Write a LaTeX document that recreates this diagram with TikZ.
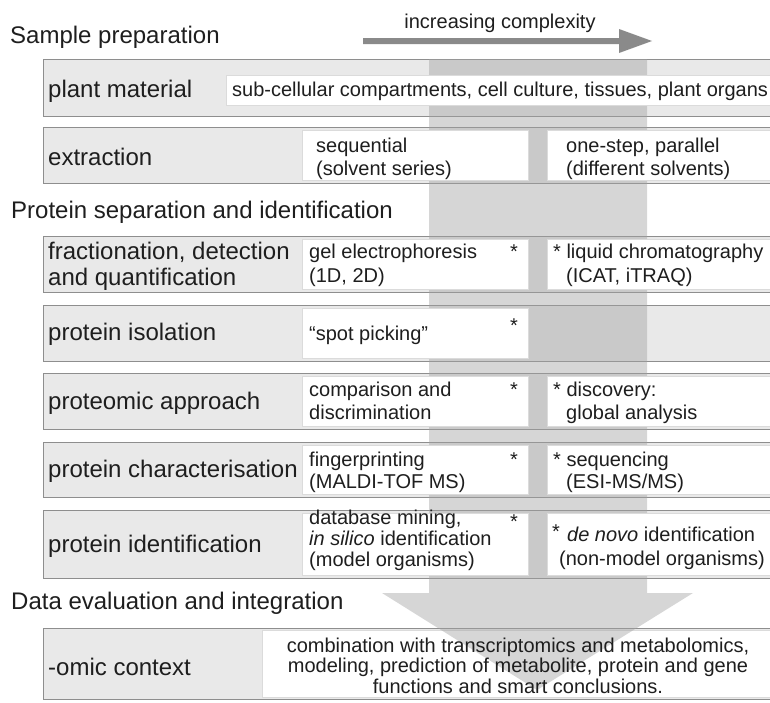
\documentclass[tikz,border=0pt]{standalone}
\usepackage{fontspec}
\setmainfont{Liberation Sans}
\definecolor{boxfill}{HTML}{E9E9E9}
\definecolor{boxline}{HTML}{8E8E8E}
\definecolor{txt}{HTML}{1E1E1E}
\definecolor{arrowgray}{HTML}{8A8A8A}
\newcommand\lblfont{\fontsize{24}{26}\selectfont}
\newcommand\inrfont{\fontsize{20}{22.5}\selectfont}
\tikzset{
  rowbox/.style={fill=boxfill, draw=boxline, line width=1pt},
  inbox/.style={fill=white, draw=black!14, line width=0.5pt},
  lbl/.style={anchor=base west, inner sep=0pt, text=txt, font=\lblfont},
  itxt/.style={anchor=base west, inner sep=0pt, text=txt, font=\inrfont},
  ctxt/.style={anchor=base, inner sep=0pt, text=txt, font=\inrfont},
  star/.style={anchor=base, inner sep=0pt, text=txt, font=\inrfont},
  band/.style={fill=black!37, fill opacity=0.43},
}
\begin{document}
\begin{tikzpicture}[x=1pt,y=-1pt]
\useasboundingbox (0,0) rectangle (770,702);
\clip (0,0) rectangle (770,702);

% outer row boxes
\foreach \t/\b in {59/116, 127/183, 236/292, 305/361, 373/429, 442/497, 510/578, 628/699}{
  \path[rowbox] (43,\t) rectangle (785,\b);
}

% bottom inner box (lies under the arrow head)
\path[inbox] (262,630) rectangle (785,697);

% big downward arrow (band)
\coordinate (bandTL) at (429,59);
\coordinate (bandTR) at (647,59);
\fill[band] (bandTL) -- (bandTR) -- (647,593) -- (693,593) -- (537,690) -- (382,593) -- (429,593) -- cycle;

% inner boxes
\path[inbox] (226,75) rectangle (785,105);
\foreach \t/\b in {127/183, 236/292, 373/429, 442/497, 510/578}{
  \path[inbox] (302,\t+3) rectangle (528,\b-3);
  \path[inbox] (547,\t+3) rectangle (785,\b-3);
}
\path[inbox] (302,308) rectangle (528,358);

% top arrow
\coordinate (ta) at (363,41);
\coordinate (tb) at (652,41);
\fill[arrowgray] (ta) ++(0,-3) -- (619,38) -- (619,29) -- (tb) -- (619,53) -- (619,44) -- (363,44) -- cycle;
\node[ctxt] (inc) at (500,28) {increasing complexity};

% section titles
\node[lbl] (t1) at (10,43) {Sample preparation};
\node[lbl] (t2) at (11,218) {Protein separation and identification};
\node[lbl] (t3) at (11,609) {Data evaluation and integration};

% row labels
\node[lbl] (l1) at (48,97) {plant material};
\node[lbl] (l2) at (48,165) {extraction};
\node[lbl] (l3a) at (48,259) {fractionation, detection};
\node[lbl] (l3b) at (48,285) {and quantification};
\node[lbl] (l4) at (48,340) {protein isolation};
\node[lbl] (l5) at (48,409) {proteomic approach};
\node[lbl] (l6) at (48,477) {protein characterisation};
\node[lbl] (l7) at (48,552) {protein identification};
\node[lbl] (l8) at (48,675) {-omic context};

% row 1
\node[itxt] (c1) at (232,96) {sub-cellular compartments, cell culture, tissues, plant organs};

% row 2
\node[itxt] (c2a1) at (316,152) {sequential};
\node[itxt] (c2a2) at (316,175) {(solvent series)};
\node[itxt] (c2b1) at (566,152) {one-step, parallel};
\node[itxt] (c2b2) at (566,175) {(different solvents)};

% row 3
\node[itxt] (c3a1) at (309,258) {gel electrophoresis};
\node[itxt] (c3a2) at (309,282) {(1D, 2D)};
\node[star] (s3a) at (514,258) {*};
\node[itxt] (c3b1) at (553,258) {* liquid chromatography};
\node[itxt] (c3b2) at (566,282) {(ICAT, iTRAQ)};

% row 4
\node[itxt] (c4a1) at (309,340) {“spot picking”};
\node[star] (s4a) at (514,332) {*};

% row 5
\node[itxt] (c5a1) at (309,396) {comparison and};
\node[itxt] (c5a2) at (309,419) {discrimination};
\node[star] (s5a) at (514,396) {*};
\node[itxt] (c5b1) at (553,396) {* discovery:};
\node[itxt] (c5b2) at (566,419) {global analysis};

% row 6
\node[itxt] (c6a1) at (309,466) {fingerprinting};
\node[itxt] (c6a2) at (309,488) {(MALDI-TOF MS)};
\node[star] (s6a) at (514,466) {*};
\node[itxt] (c6b1) at (553,466) {* sequencing};
\node[itxt] (c6b2) at (566,488) {(ESI-MS/MS)};

% row 7
\node[itxt] (c7a1) at (309,524) {database mining,};
\node[itxt] (c7a2) at (309,545) {\textit{in silico} identification};
\node[itxt] (c7a3) at (309,566) {(model organisms)};
\node[star] (s7a) at (514,528) {*};
\node[star] (s7b) at (556,538) {*};
\node[itxt] (c7b1) at (567,541) {\textit{de novo} identification};
\node[itxt] (c7b2) at (559,565) {(non-model organisms)};

% row 8
\node[ctxt] (c8a) at (518,652) {combination with transcriptomics and metabolomics,};
\node[ctxt] (c8b) at (518,672) {modeling, prediction of metabolite, protein and gene};
\node[ctxt] (c8c) at (518,693) {functions and smart conclusions.};
\end{tikzpicture}
\end{document}
